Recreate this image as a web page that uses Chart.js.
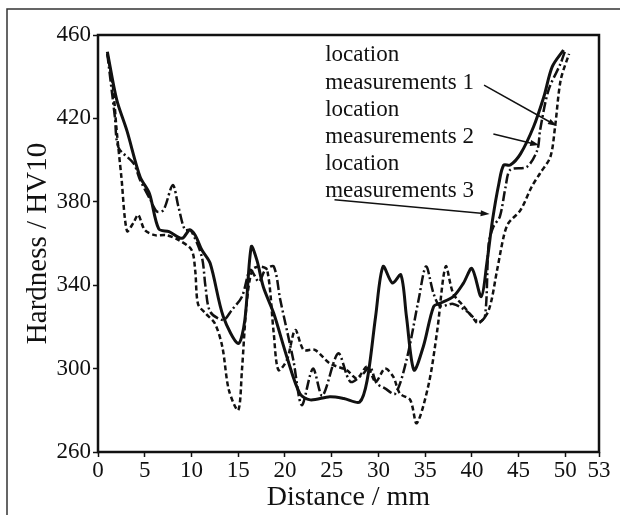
<!DOCTYPE html>
<html>
<head>
<meta charset="utf-8">
<script src="https://cdn.jsdelivr.net/npm/chart.js@4.4.1/dist/chart.umd.min.js"></script>
<style>
  html, body { margin: 0; padding: 0; background: #fff; }
</style>
</head>
<body>
<canvas id="chart" width="620" height="515"></canvas>
<script>
// measurement line 1 (solid)
const dist1 = [1.0, 2.0, 3.1, 4.5, 5.5, 6.5, 7.6, 9.0, 9.8, 10.4, 11.1, 12.0, 13.4, 15.0, 15.7, 16.4, 17.0, 17.7, 18.8, 20.2,
  21.6, 22.7, 24.8, 26.3, 28.0, 28.8, 29.7, 30.5, 31.5, 32.4, 33.0, 33.8, 34.8, 35.9, 36.6, 38.0, 39.1, 40.0, 41.0, 41.6,
  42.2, 42.9, 43.4, 44.1, 45.2, 46.6, 47.7, 48.6, 49.8];
const hv1 = [452, 429, 414, 392, 384, 367, 365.7, 362.5, 366.5, 364, 357, 350.5, 325, 312, 323, 358.5, 352, 339, 326.5, 305.7,
  288, 285, 286.5, 285.7, 284, 294.5, 325, 349, 341, 345, 325, 299.3, 310.5, 329.7, 331.3, 334.5, 341, 348, 334.5, 350.5,
  371, 389, 397.6, 397.6, 403, 416, 430.4, 444.8, 452.8];

// measurement line 2 (dash-dot)
const dist2 = [1.0, 1.8, 2.2, 3.8, 4.5, 5.6, 6.3, 7.0, 8.0, 8.6, 9.3, 9.9, 11.1, 11.5, 12.0, 13.4, 14.3, 15.4, 16.3, 17.2,
  17.9, 18.8, 19.5, 20.9, 21.8, 23.0, 24.0, 25.7, 27.0, 28.4, 29.1, 29.8, 30.7, 31.8, 33.0, 34.3, 35.1, 35.9, 36.6, 38.0,
  39.6, 40.7, 41.4, 41.8, 42.3, 43.0, 43.6, 44.1, 45.9, 47.0, 47.3, 48.2, 49.5, 50.0];
const hv2 = [451, 421, 406, 398.5, 390.5, 381, 375.3, 376, 388, 377.7, 366.5, 366.5, 353.7, 339.3, 327.3, 323.3, 328, 334.5, 347.3, 341.7,
  347.3, 349, 333, 304, 282.5, 300, 287, 307.3, 293.7, 297.7, 301, 293, 290.5, 288, 304, 333, 349, 336, 330, 331,
  327, 322.5, 325, 360, 368, 373, 387, 395.3, 396.8, 404.8, 414.4, 433.6, 446.4, 452.8];

// measurement line 3 (short dashes)
const dist3 = [1.0, 1.6, 2.0, 2.5, 3.1, 3.8, 4.3, 5.0, 6.1, 7.3, 8.6, 10.0, 10.4, 10.7, 11.5, 12.5, 13.3, 14.0, 15.0, 15.4,
  15.9, 16.5, 17.3, 18.1, 18.8, 19.3, 20.2, 21.1, 22.0, 23.2, 24.8, 26.6, 27.7, 28.8, 29.7, 30.7, 31.6, 32.3, 33.4, 34.1,
  35.4, 36.3, 37.2, 38.0, 39.1, 40.0, 40.7, 41.8, 42.7, 43.4, 43.9, 45.2, 46.4, 47.3, 48.4, 48.9, 49.5, 50.4];
const hv3 = [451, 435, 414, 392, 366, 370, 373.7, 366.5, 364, 364, 361.7, 357, 347, 331, 326.5, 321.7, 310.5, 289.7, 280, 299.3,
  331, 347.3, 349, 347.3, 317, 299.3, 304, 318.5, 309, 309, 302.5, 299.3, 295.3, 301, 293.7, 300, 296, 288, 285, 273.8,
  293, 318.5, 349, 336, 330, 325, 321.7, 328, 347.3, 363.3, 369.7, 376, 387.2, 393.7, 401.6, 416, 438.4, 451];

const xTicks = [0, 5, 10, 15, 20, 25, 30, 35, 40, 45, 50, 53];
const yTicks = [260, 300, 340, 380, 420, 460];
const X_END = 53.6; // "53" sits a little past where a linear 0-50 spacing would put it

// callout text lines and arrows, in data units
const noteLines = ['location', 'measurements 1', 'location', 'measurements 2', 'location', 'measurements 3'];
const noteX = 24.3;
const noteY = [450.5, 437, 424, 411, 398, 385];
const arrowFrom = [[41.3, 436], [42.3, 412.5], [25.3, 381]];
const arrowTo = [[49.1, 416.4], [47.2, 407.2], [41.9, 374.1]];

const SERIF = '"Liberation Serif", "Times New Roman", serif';

const toPoints = (xs, ys) => xs.map((x, i) => ({ x: x, y: ys[i] }));

const decorations = {
  id: 'decorations',
  afterDraw(chart) {
    const ctx = chart.ctx;
    const { left, top, right, bottom } = chart.chartArea;
    const sx = chart.scales.x, sy = chart.scales.y;
    ctx.save();

    // outer figure frame (top + left)
    ctx.strokeStyle = '#333';
    ctx.lineWidth = 1.5;
    ctx.beginPath();
    ctx.moveTo(7, 515);
    ctx.lineTo(7, 9);
    ctx.lineTo(620, 9);
    ctx.stroke();

    // plot box
    ctx.strokeStyle = '#111';
    ctx.lineWidth = 2.5;
    ctx.strokeRect(left, top, right - left, bottom - top);

    // callout text
    ctx.fillStyle = '#111';
    ctx.font = '23px ' + SERIF;
    ctx.textAlign = 'left';
    ctx.textBaseline = 'middle';
    noteLines.forEach((t, i) => {
      ctx.fillText(t, sx.getPixelForValue(noteX), sy.getPixelForValue(noteY[i]));
    });

    // arrows
    ctx.lineWidth = 1.5;
    arrowFrom.forEach((a, i) => {
      const x0 = sx.getPixelForValue(a[0]), y0 = sy.getPixelForValue(a[1]);
      const x1 = sx.getPixelForValue(arrowTo[i][0]), y1 = sy.getPixelForValue(arrowTo[i][1]);
      const ang = Math.atan2(y1 - y0, x1 - x0);
      ctx.beginPath();
      ctx.moveTo(x0, y0);
      ctx.lineTo(x1 - 6 * Math.cos(ang), y1 - 6 * Math.sin(ang));
      ctx.stroke();
      ctx.beginPath();
      ctx.moveTo(x1, y1);
      ctx.lineTo(x1 - 9 * Math.cos(ang) + 3 * Math.sin(ang), y1 - 9 * Math.sin(ang) - 3 * Math.cos(ang));
      ctx.lineTo(x1 - 9 * Math.cos(ang) - 3 * Math.sin(ang), y1 - 9 * Math.sin(ang) + 3 * Math.cos(ang));
      ctx.closePath();
      ctx.fill();
    });
    ctx.restore();
  }
};

const tickGrid = {
  display: true,
  drawOnChartArea: false,
  drawTicks: true,
  tickLength: 5,
  tickWidth: 1.5,
  tickColor: '#111'
};

new Chart(document.getElementById('chart'), {
  type: 'line',
  data: {
    datasets: [
      {
        label: 'location measurements 1',
        data: toPoints(dist1, hv1),
        borderColor: '#111',
        borderWidth: 3,
        pointRadius: 0,
        tension: 0.3
      },
      {
        label: 'location measurements 2',
        data: toPoints(dist2, hv2),
        borderColor: '#111',
        borderWidth: 2.5,
        borderDash: [10, 3, 2, 3],
        pointRadius: 0,
        tension: 0.3
      },
      {
        label: 'location measurements 3',
        data: toPoints(dist3, hv3),
        borderColor: '#111',
        borderWidth: 2.5,
        borderDash: [5, 3],
        pointRadius: 0,
        tension: 0.3
      }
    ]
  },
  options: {
    responsive: false,
    animation: false,
    layout: { padding: { top: 35, right: 21, left: 0, bottom: 0 } },
    plugins: {
      legend: { display: false },
      tooltip: { enabled: false }
    },
    scales: {
      x: {
        type: 'linear',
        min: 0,
        max: X_END,
        afterBuildTicks: (scale) => { scale.ticks = xTicks.map(v => ({ value: v === 53 ? X_END : v })); },
        afterFit: (scale) => { scale.height = 63; },
        border: { display: false },
        grid: tickGrid,
        ticks: {
          color: '#111',
          font: { family: SERIF, size: 23 },
          padding: 0,
          maxRotation: 0,
          autoSkip: false,
          callback: (value, index) => String(xTicks[index])
        },
        title: {
          display: true,
          text: 'Distance / mm',
          color: '#111',
          font: { family: SERIF, size: 28 },
          padding: { top: 0, bottom: 1 }
        }
      },
      y: {
        min: 260,
        max: 460,
        afterBuildTicks: (scale) => { scale.ticks = yTicks.map(v => ({ value: v })); },
        afterFit: (scale) => { scale.width = 98; },
        border: { display: false },
        grid: tickGrid,
        ticks: {
          color: '#111',
          font: { family: SERIF, size: 23 },
          padding: 2,
          autoSkip: false
        },
        title: {
          display: true,
          text: 'Hardness / HV10',
          color: '#111',
          font: { family: SERIF, size: 29 },
          padding: { top: 21, bottom: 0 }
        }
      }
    }
  },
  plugins: [decorations]
});
</script>
</body>
</html>
